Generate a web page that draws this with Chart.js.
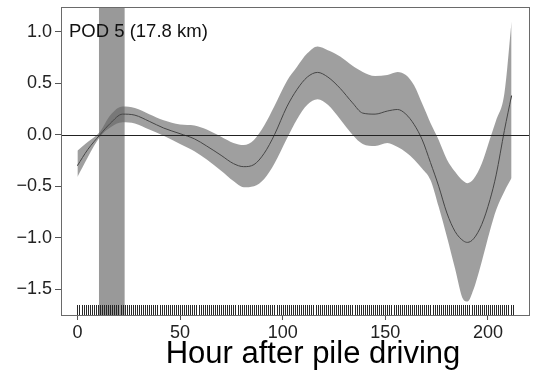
<!DOCTYPE html>
<html>
<head>
<meta charset="utf-8">
<script src="https://cdn.jsdelivr.net/npm/chart.js@4"></script>
<style>
  html, body { margin: 0; padding: 0; background: #fff; overflow: hidden; }
  canvas { display: block; }
</style>
</head>
<body>
<canvas id="podChart" width="539" height="375"></canvas>
<script>
// smooth fit of the response against hours after pile driving, with its confidence band
const hours = [0, 5, 11, 16, 22, 28, 35, 42, 50, 57, 63, 70, 76, 81, 86, 91, 96, 102, 107, 112, 117, 122,
  128, 134, 139, 145, 151, 156, 160, 164, 168, 172, 176, 180, 184, 188, 190, 193, 197, 201, 204, 208, 211.5];
const fit = [-0.30, -0.145, 0.0, 0.11, 0.20, 0.19, 0.13, 0.065, 0.01, -0.04, -0.11, -0.20, -0.28, -0.31, -0.29, -0.18,
  0.0, 0.27, 0.44, 0.56, 0.605, 0.56, 0.45, 0.31, 0.21, 0.20, 0.23, 0.245, 0.20, 0.10, -0.05, -0.27, -0.50, -0.76,
  -0.94, -1.03, -1.045, -1.01, -0.87, -0.63, -0.39, 0.04, 0.38];
const upper = [-0.155, -0.07, 0.03, 0.19, 0.275, 0.26, 0.20, 0.14, 0.10, 0.09, 0.05, -0.02, -0.08, -0.10, -0.05, 0.09,
  0.28, 0.52, 0.66, 0.79, 0.857, 0.82, 0.76, 0.67, 0.61, 0.57, 0.58, 0.61, 0.58, 0.48, 0.30, 0.115, -0.05, -0.24,
  -0.36, -0.45, -0.47, -0.43, -0.28, -0.04, 0.14, 0.40, 1.10];
const lower = [-0.41, -0.22, -0.02, 0.07, 0.12, 0.11, 0.05, -0.01, -0.09, -0.16, -0.24, -0.35, -0.45, -0.51, -0.50, -0.43,
  -0.28, -0.04, 0.15, 0.29, 0.345, 0.29, 0.15, 0.0, -0.09, -0.11, -0.08, -0.12, -0.17, -0.24, -0.33, -0.44, -0.70, -0.99,
  -1.30, -1.60, -1.62, -1.50, -1.23, -0.93, -0.73, -0.55, -0.42];

// pile driving period
const pileStart = 10.5;
const pileEnd = 23;

// hours with observations (rug along the x axis)
const obsHours = [
  0, 1, 2, 3, 4, 5, 6, 7, 8, 9, 10, 11, 12, 13, 14, 15, 16, 17, 18, 19,
  20, 21, 22, 23, 24, 25, 26, 27, 28, 29, 30, 31, 32, 33, 34, 35, 36, 37, 38, 39,
  40, 41, 42, 43, 44, 45, 46, 47, 48, 49, 50, 51, 52, 53, 54, 55, 56, 57, 58, 59,
  60, 61, 62, 63, 64, 65, 66, 67, 68, 69, 70, 71, 72, 73, 74, 75, 76, 77, 78, 79,
  80, 81, 82, 83, 84, 85, 86, 87, 88, 89, 90, 91, 92, 93, 94, 95, 96, 97, 98, 99,
  100, 101, 102, 103, 104, 105, 106, 107, 108, 109, 110, 111, 112, 113, 114, 115, 116, 117, 118, 119,
  120, 121, 122, 123, 124, 125, 126, 127, 128, 129, 130, 131, 132, 133, 134, 135, 136, 137, 138, 139,
  140, 141, 142, 143, 144, 145, 146, 147, 148, 149, 150, 151, 152, 153, 154, 155, 156, 157, 158, 159,
  160, 161, 162, 163, 164, 165, 166, 167, 168, 169, 170, 171, 172, 173, 174, 175, 176, 177, 178, 179,
  180, 181, 182, 183, 184, 185, 186, 187, 188, 189, 190, 191, 192, 193, 194, 195, 196, 197, 198, 199,
  200, 201, 202, 203, 204, 205, 206, 207, 208, 209, 210, 211, 212
];

const panelLabel = 'POD 5 (17.8 km)';
const xTitle = 'Hour after pile driving';
const xTicks = [0, 50, 100, 150, 200];
const yTicks = [-1.5, -1.0, -0.5, 0.0, 0.5, 1.0];

const FONT = "'Liberation Sans', Arial, Helvetica, sans-serif";

function pts(ys) {
  return hours.map((h, i) => ({ x: h, y: ys[i] }));
}

const decorations = {
  id: 'decorations',
  beforeDatasetsDraw(chart) {
    const { ctx, chartArea: a, scales: { x } } = chart;
    ctx.save();
    ctx.fillStyle = 'rgba(80,80,80,0.58)';
    const x0 = x.getPixelForValue(pileStart);
    const x1 = x.getPixelForValue(pileEnd);
    ctx.fillRect(x0, a.top, x1 - x0, a.bottom - a.top);
    ctx.restore();
  },
  afterDatasetsDraw(chart) {
    const { ctx, chartArea: a, scales: { x, y } } = chart;
    ctx.save();
    // zero line
    const y0 = Math.round(y.getPixelForValue(0)) + 0.5;
    ctx.strokeStyle = '#222';
    ctx.lineWidth = 1;
    ctx.beginPath();
    ctx.moveTo(a.left, y0);
    ctx.lineTo(a.right, y0);
    ctx.stroke();

    // rug
    ctx.strokeStyle = 'rgba(30,30,30,0.95)';
    ctx.beginPath();
    obsHours.forEach(h => {
      const px = Math.round(x.getPixelForValue(h)) + 0.5;
      ctx.moveTo(px, a.bottom);
      ctx.lineTo(px, a.bottom - 10);
    });
    ctx.stroke();

    // frame
    ctx.strokeStyle = '#6a6a6a';
    ctx.strokeRect(Math.round(a.left) + 0.5, Math.round(a.top) + 0.5,
      Math.round(a.right - a.left), Math.round(a.bottom - a.top));

    // panel label
    ctx.fillStyle = '#111';
    ctx.font = '18.5px ' + FONT;
    ctx.textAlign = 'left';
    ctx.textBaseline = 'alphabetic';
    ctx.fillText(panelLabel, a.left + 8, a.top + 30);

    // x axis title
    ctx.font = '31px ' + FONT;
    ctx.textAlign = 'center';
    ctx.fillStyle = '#000';
    ctx.fillText(xTitle, (a.left + a.right) / 2 + 18, 363);
    ctx.restore();
  }
};

const ctx = document.getElementById('podChart').getContext('2d');
new Chart(ctx, {
  type: 'line',
  data: {
    datasets: [
      {
        label: 'upper',
        data: pts(upper),
        borderWidth: 0,
        pointRadius: 0,
        cubicInterpolationMode: 'monotone',
        backgroundColor: 'rgba(100,100,100,0.62)',
        fill: '+1'
      },
      {
        label: 'lower',
        data: pts(lower),
        borderWidth: 0,
        pointRadius: 0,
        cubicInterpolationMode: 'monotone',
        fill: false
      },
      {
        label: 'fit',
        data: pts(fit),
        borderColor: '#151515',
        borderWidth: 1,
        pointRadius: 0,
        cubicInterpolationMode: 'monotone',
        fill: false
      }
    ]
  },
  options: {
    responsive: false,
    animation: false,
    devicePixelRatio: 1,
    layout: { autoPadding: false, padding: { top: 7, right: 10, left: 0, bottom: 0 } },
    plugins: { legend: { display: false }, tooltip: { enabled: false } },
    scales: {
      x: {
        type: 'linear',
        min: -8,
        max: 220,
        afterFit(scale) {
          scale.height = 60;
          scale.paddingLeft = 0;
          scale.paddingRight = 0;
        },
        afterBuildTicks(scale) { scale.ticks = xTicks.map(v => ({ value: v })); },
        border: { display: false },
        grid: { drawOnChartArea: false, tickLength: 5, tickColor: '#555' },
        ticks: {
          padding: 2,
          color: '#222',
          font: { family: FONT, size: 18 },
          callback: v => String(v)
        }
      },
      y: {
        type: 'linear',
        min: -1.75,
        max: 1.24,
        afterFit(scale) {
          scale.width = 61;
          scale.paddingTop = 0;
          scale.paddingBottom = 0;
        },
        afterBuildTicks(scale) { scale.ticks = yTicks.map(v => ({ value: v })); },
        border: { display: false },
        grid: { drawOnChartArea: false, tickLength: 6, tickColor: '#555' },
        ticks: {
          padding: 3,
          color: '#222',
          font: { family: FONT, size: 18 },
          callback: v => (v < 0 ? '\u2212' : '') + Math.abs(v).toFixed(1)
        }
      }
    }
  },
  plugins: [decorations]
});
</script>
</body>
</html>
